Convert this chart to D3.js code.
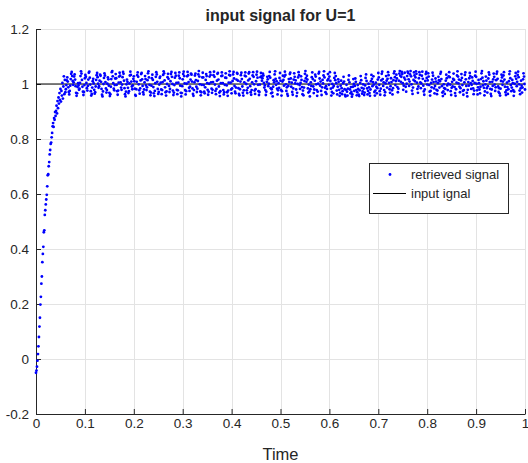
<!DOCTYPE html>
<html>
<head>
<meta charset="utf-8">
<script src="https://cdnjs.cloudflare.com/ajax/libs/d3/7.8.5/d3.min.js"></script>
<style>
  body { margin: 0; background: #fff; }
  text { font-family: "Liberation Sans", Arial, sans-serif; fill: #262626; }
</style>
</head>
<body>
<div id="chart-area"></div>
<script>
// ---- data ----
const sampleStep = 0.001;   // one sample per ms, t = 0 .. 1
const inputLevel = 1;       // U = 1
const xTicks = [0, 0.1, 0.2, 0.3, 0.4, 0.5, 0.6, 0.7, 0.8, 0.9, 1];
const yTicks = [-0.2, 0, 0.2, 0.4, 0.6, 0.8, 1, 1.2];

// rise at the start (first 61 samples)
const riseValues = [
  -0.050,-0.042,-0.028,-0.006,0.018,0.046,0.080,0.118,0.150,0.198,
  0.226,0.274,0.300,0.352,0.382,0.408,0.461,0.468,0.524,0.541,
  0.562,0.580,0.597,0.628,0.668,0.672,0.701,0.716,0.744,0.760,
  0.782,0.787,0.806,0.822,0.846,0.858,0.844,0.876,0.870,0.898,
  0.884,0.902,0.921,0.893,0.938,0.912,0.951,0.929,0.967,0.942,
  0.982,0.936,0.975,0.958,1.004,0.947,0.991,1.028,0.963,1.015,0.970
];

// steady part, noisy around 1
const steadyValues = [
  0.981,0.996,1.013,1.024,1.009,0.988,0.971,0.962,0.975,0.994,1.018,1.037,1.044,1.029,1.011,0.997,1.006,1.027,1.035,1.016,
  0.992,0.968,0.957,0.966,0.989,1.003,0.995,0.979,0.983,1.004,1.029,1.046,1.038,1.015,0.990,0.972,0.960,0.971,0.996,1.021,
  1.033,1.026,1.004,0.985,0.976,0.993,1.016,1.041,1.045,1.023,0.998,0.974,0.958,0.964,0.987,1.010,1.019,1.002,0.979,0.965,
  0.970,0.991,1.015,1.032,1.040,1.025,1.001,0.986,0.992,1.012,1.034,1.030,1.008,0.982,0.961,0.955,0.973,1.000,1.022,1.039,
  1.031,1.007,0.984,0.969,0.978,1.001,1.024,1.017,0.994,0.968,0.956,0.963,0.990,1.018,1.043,1.047,1.028,1.003,0.983,0.977,
  0.996,1.020,1.036,1.021,0.997,0.974,0.961,0.976,1.005,1.027,1.041,1.030,1.006,0.987,0.979,0.998,1.025,1.044,1.037,1.012,
  0.985,0.963,0.955,0.972,0.999,1.016,1.008,0.986,0.967,0.974,1.002,1.031,1.045,1.033,1.009,0.991,0.981,0.995,1.019,1.028,
  1.010,0.983,0.960,0.957,0.981,1.008,1.032,1.042,1.026,0.999,0.977,0.965,0.984,1.013,1.036,1.040,1.017,0.993,0.970,0.962,
  0.980,1.006,1.029,1.018,0.995,0.978,0.988,1.014,1.039,1.046,1.024,0.997,0.972,0.959,0.969,0.994,1.021,1.034,1.015,0.989,
  0.966,0.956,0.975,1.003,1.026,1.043,1.035,1.008,0.982,0.964,0.971,0.998,1.022,1.027,1.005,0.980,0.963,0.978,1.007,1.033,
  1.046,1.039,1.013,0.988,0.970,0.958,0.973,1.000,1.025,1.037,1.019,0.993,0.971,0.982,1.010,1.036,1.044,1.026,1.000,0.976,
  0.960,0.969,0.996,1.023,1.040,1.030,1.004,0.979,0.963,0.977,1.005,1.030,1.042,1.021,0.994,0.968,0.955,0.967,0.992,1.017,
  1.036,1.045,1.029,1.002,0.978,0.962,0.974,1.001,1.028,1.044,1.032,1.007,0.986,0.975,0.990,1.016,1.038,1.034,1.009,0.984,
  0.964,0.957,0.978,1.006,1.031,1.038,1.014,0.990,0.971,0.983,1.011,1.035,1.047,1.027,0.999,0.973,0.959,0.970,0.997,1.024,
  1.041,1.024,0.996,0.972,0.966,0.988,1.015,1.036,1.029,1.003,0.979,0.961,0.972,1.001,1.027,1.043,1.033,1.006,0.983,0.968,
  0.979,1.007,1.032,1.045,1.026,0.998,0.975,0.963,0.982,1.012,1.037,1.040,1.016,0.991,0.969,0.956,0.974,1.003,1.029,1.042,
  1.030,1.003,0.978,0.962,0.970,0.997,1.023,1.039,1.022,0.995,0.970,0.957,0.976,1.005,1.033,1.046,1.031,1.005,0.980,0.966,
  0.984,1.011,1.035,1.044,1.020,0.993,0.972,0.966,0.987,1.016,1.040,1.037,1.012,0.985,0.964,0.959,0.981,1.009,1.032,1.041,
  1.018,0.991,0.968,0.958,0.977,1.006,1.030,1.042,1.028,1.000,0.977,0.967,0.986,1.013,1.038,1.043,1.019,0.992,0.970,0.961,
  0.978,1.006,1.031,1.043,1.026,0.999,0.976,0.964,0.981,1.010,1.034,1.045,1.023,0.997,0.974,0.960,0.971,0.998,1.025,1.040,
  1.028,1.012,1.021,1.038,1.031,1.004,0.987,0.995,0.978,0.960,0.972,1.008,1.026,1.017,0.992,1.001,1.029,1.044,1.023,0.985,
  0.966,0.981,0.969,0.955,0.990,1.014,1.006,1.035,1.046,1.019,0.997,1.010,0.983,0.962,0.977,1.003,0.986,1.022,1.040,1.012,
  0.979,0.958,0.974,1.009,1.030,1.015,0.994,1.027,1.045,1.033,0.999,0.975,0.988,0.964,0.957,0.993,1.018,1.007,1.036,1.041,
  1.020,0.990,1.005,0.971,0.961,0.984,1.016,1.039,1.026,1.002,1.013,0.980,0.956,0.968,1.000,1.024,1.043,1.032,0.996,0.982,
  1.004,1.028,1.015,0.989,0.963,0.976,0.959,0.987,1.011,1.037,1.047,1.021,1.008,1.030,1.016,0.984,0.969,0.998,0.973,0.955,
  0.981,1.006,0.993,1.025,1.042,1.018,0.991,0.967,0.980,1.012,1.034,1.027,0.999,0.978,0.957,0.972,1.001,1.038,1.044,1.020,
  0.994,1.009,0.975,0.960,0.988,1.015,1.002,1.031,1.046,1.024,0.986,0.970,0.992,0.964,0.982,1.013,1.036,1.019,0.997,1.027,
  1.043,1.011,0.983,0.958,0.971,1.000,0.987,0.966,0.993,1.022,1.040,1.014,1.029,1.003,0.976,0.962,0.990,1.017,1.008,0.979,
  0.957,0.968,0.994,1.012,0.985,0.963,0.974,1.003,1.026,1.009,0.981,0.960,0.955,0.979,0.997,0.972,0.958,0.983,1.015,1.031,
  1.006,0.980,0.966,0.989,0.971,0.954,0.962,0.990,1.018,1.000,0.975,0.993,1.020,1.008,0.978,0.959,0.970,0.996,0.982,0.961,
  0.956,0.977,1.004,1.029,1.014,0.986,0.965,0.973,0.999,0.983,0.960,0.969,0.995,1.022,1.035,1.011,0.984,0.962,0.975,1.001,
  0.988,0.967,0.957,0.980,1.010,1.033,1.019,0.992,1.007,1.028,0.998,0.971,0.958,0.976,1.005,0.990,0.966,0.985,1.016,1.040,
  1.024,0.997,0.974,0.961,0.983,1.013,1.037,1.045,1.018,0.993,1.006,0.978,0.959,0.970,1.002,1.029,1.012,0.987,1.019,1.043,
  1.032,1.004,0.981,0.968,0.992,1.021,1.007,0.977,0.962,0.985,1.014,1.039,1.046,1.025,0.996,1.011,1.034,1.020,0.989,0.970,
  0.983,1.012,1.038,1.047,1.030,1.008,1.026,1.044,1.036,1.003,0.979,0.994,1.023,1.041,1.016,0.990,0.972,1.001,1.029,1.045,
  1.040,1.017,0.993,1.009,1.035,1.047,1.028,0.999,0.976,0.964,0.987,1.015,1.042,1.031,1.010,1.024,1.046,1.037,1.005,0.982,
  0.968,0.991,1.021,1.043,1.033,1.006,0.985,1.002,1.030,1.045,1.019,0.994,0.973,0.961,0.980,1.011,1.036,1.044,1.022,0.998,
  1.013,1.039,1.027,0.996,0.972,0.958,0.975,1.004,0.988,1.016,1.041,1.030,1.007,0.984,0.966,0.993,1.020,1.009,0.979,0.963,
  0.976,1.003,1.026,1.014,0.987,1.010,1.037,1.044,1.018,0.992,0.969,0.956,0.973,0.999,0.985,0.964,0.982,1.012,1.034,1.021,
  0.995,0.978,1.001,1.028,1.043,1.025,0.998,0.974,0.960,0.986,1.008,0.991,1.019,1.038,1.015,0.989,0.967,0.957,0.981,1.005,
  1.031,1.046,1.027,1.002,1.016,0.990,0.970,0.985,1.013,1.036,1.022,0.996,0.975,0.961,0.978,1.006,1.033,1.042,1.017,0.993,
  0.968,0.955,0.979,1.007,0.994,1.021,1.040,1.029,1.003,0.982,0.997,1.024,1.011,0.984,0.963,0.976,1.004,1.030,1.045,1.026,
  1.001,0.977,0.962,0.988,1.015,1.003,0.980,0.966,0.990,1.018,1.039,1.047,1.023,0.995,1.010,0.986,0.959,0.973,0.999,1.027,
  1.012,0.985,0.969,0.992,1.020,1.042,1.034,1.007,0.982,0.964,0.956,0.980,1.008,0.993,1.017,1.038,1.026,0.998,0.975,0.988,
  1.014,1.037,1.045,1.019,0.991,0.971,0.985,0.966,0.958,0.983,1.011,1.034,1.024,0.997,1.009,1.031,1.043,1.016,0.990,0.970,
  0.960,0.977,1.005,0.989,0.964,0.981,1.010,1.036,1.046,1.021,0.996,0.974,0.987,1.015,1.003,0.978,0.957,0.972,1.001,1.028,
  1.040,1.019,0.992,1.008,1.033,1.045,1.025,0.999,0.976,0.963,0.984,1.012,0.994,0.969,0.987,1.017,1.039,1.027,1.000,0.980
];

const retrieved = riseValues.concat(steadyValues)
    .map((v, i) => ({t: i * sampleStep, v: v}));

// ---- canvas ----
const canvasWidth = 528, canvasHeight = 463;
const margin = {top: 29, left: 36, right: 3, bottom: 49};
const graphWidth = canvasWidth - margin.left - margin.right;
const graphHeight = canvasHeight - margin.top - margin.bottom;

const svg = d3.select("#chart-area").append("svg")
    .attr("width", canvasWidth)
    .attr("height", canvasHeight);
const main = svg.append("g")
    .attr("transform", "translate(" + margin.left + "," + margin.top + ")");

const x = d3.scaleLinear().domain([0, 1]).range([0, graphWidth]);
const y = d3.scaleLinear().domain([-0.2, 1.2]).range([graphHeight, 0]);

// grid
main.append("g").selectAll("line").data(xTicks).join("line")
    .attr("x1", d => Math.round(x(d)) + 0.5).attr("x2", d => Math.round(x(d)) + 0.5)
    .attr("y1", 0).attr("y2", graphHeight)
    .attr("stroke", "#e3e3e3");
main.append("g").selectAll("line").data(yTicks).join("line")
    .attr("y1", d => Math.round(y(d)) + 0.5).attr("y2", d => Math.round(y(d)) + 0.5)
    .attr("x1", 0).attr("x2", graphWidth)
    .attr("stroke", "#e3e3e3");

// axes (ticks point inward, like matlab), plain hyphen for negatives
const xAxis = d3.axisBottom(x).tickValues(xTicks).tickSizeInner(-5).tickSizeOuter(0)
    .tickPadding(4).tickFormat(d => String(d));
const xAxisGroup = main.append("g")
    .attr("transform", "translate(0," + graphHeight + ")")
    .call(xAxis);
const yAxis = d3.axisLeft(y).tickValues(yTicks).tickSizeInner(-5).tickSizeOuter(0)
    .tickPadding(7).tickFormat(d => String(d));
const yAxisGroup = main.append("g").call(yAxis);

[xAxisGroup, yAxisGroup].forEach(g => {
    g.select(".domain").attr("stroke", "#262626");
    g.selectAll(".tick line").attr("stroke", "#262626");
    g.selectAll(".tick text").attr("fill", "#262626")
        .style("font-family", "'Liberation Sans', Arial, sans-serif")
        .style("font-size", "13.5px");
});
yAxisGroup.selectAll(".tick text").attr("dy", "0.35em");

// input signal line
main.append("line")
    .attr("x1", x(0)).attr("x2", x(1))
    .attr("y1", y(inputLevel)).attr("y2", y(inputLevel))
    .attr("stroke", "#000").attr("stroke-width", 1);

// retrieved signal dots
main.append("g").selectAll("circle").data(retrieved).join("circle")
    .attr("cx", d => x(d.t))
    .attr("cy", d => y(d.v))
    .attr("r", 1.4)
    .attr("fill", "#0000ff");

// title
svg.append("text")
    .attr("x", margin.left + graphWidth / 2)
    .attr("y", 21)
    .attr("text-anchor", "middle")
    .attr("font-size", "16px")
    .attr("font-weight", "bold")
    .attr("fill", "#000")
    .text("input signal for U=1");

// x label
svg.append("text")
    .attr("x", margin.left + graphWidth / 2)
    .attr("y", 460)
    .attr("text-anchor", "middle")
    .attr("font-size", "16.5px")
    .text("Time");

// legend
const legend = svg.append("g").attr("transform", "translate(369,163)");
legend.append("rect")
    .attr("x", 0.5).attr("y", 0.5)
    .attr("width", 139).attr("height", 50)
    .attr("fill", "#fff").attr("stroke", "#262626");
legend.append("circle")
    .attr("cx", 21).attr("cy", 11.5).attr("r", 1.4).attr("fill", "#0000ff");
legend.append("line")
    .attr("x1", 4).attr("x2", 37).attr("y1", 30.5).attr("y2", 30.5)
    .attr("stroke", "#000");
legend.append("text").attr("x", 42).attr("y", 16)
    .attr("font-size", "13px").attr("fill", "#000").text("retrieved signal");
legend.append("text").attr("x", 42).attr("y", 35)
    .attr("font-size", "13px").attr("fill", "#000").text("input ignal");
</script>
</body>
</html>
